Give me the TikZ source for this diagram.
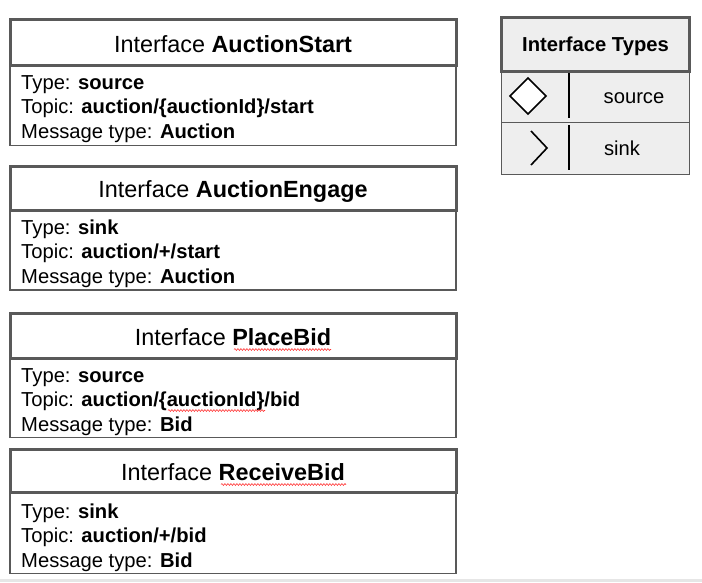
\documentclass[tikz,border=0pt]{standalone}
\usepackage{fontspec}
\setmainfont{Liberation Sans}
\usetikzlibrary{decorations.pathmorphing}
\definecolor{frame}{HTML}{595959}
\definecolor{panel}{HTML}{EEEEEE}
\definecolor{strip}{HTML}{E6E6E6}
\tikzset{
  hdrbox/.style={draw=frame, line width=3pt, fill=white, minimum width=446pt, minimum height=46pt, inner sep=0pt},
  bodybox/.style={draw=frame, line width=1.4pt, fill=white, minimum width=446pt, inner sep=0pt},
  hdrtext/.style={anchor=base, inner sep=0pt, font=\fontsize{23.4pt}{26pt}\selectfont},
  line/.style={anchor=base west, inner sep=0pt, font=\fontsize{20.2pt}{24pt}\selectfont},
  legendhdr/.style={draw=frame, line width=3pt, fill=panel, minimum width=188pt, minimum height=54pt, inner sep=0pt},
  legendrow/.style={draw=frame, line width=1pt, fill=panel, minimum width=188pt, minimum height=52pt, inner sep=0pt},
  legendtext/.style={anchor=base, inner sep=0pt, font=\fontsize{20.2pt}{24pt}\selectfont},
  glyph/.style={draw=black, line width=1.6pt},
  spell/.style={draw=red!80!white, line width=0.6pt, decorate, decoration={snake, amplitude=0.9pt, segment length=3pt}}
}
\begin{document}
\begin{tikzpicture}[x=1pt, y=-1pt]
\useasboundingbox (0,0) rectangle (702,582);
\fill[strip] (0,579) rectangle (702,582);

% interface cards: body first, header on top
\node[bodybox, minimum height=80pt] (b1) at (233,105.5) {};
\node[hdrbox] (h1) at (233,42) {};
\node[hdrtext] (t1) at (233,52) {Interface \textbf{AuctionStart}};
\node[line] (b1a) at (21,89) {Type: \textbf{source}};
\node[line] (b1b) at (21,113) {Topic: \textbf{auction/\{auctionId\}/start}};
\node[line] (b1c) at (21,138) {Message type: \textbf{Auction}};

\node[bodybox, minimum height=80pt] (b2) at (233,250) {};
\node[hdrbox, minimum height=44pt] (h2) at (233,188) {};
\node[hdrtext] (t2) at (233,197) {Interface \textbf{AuctionEngage}};
\node[line] (b2a) at (21,234) {Type: \textbf{sink}};
\node[line] (b2b) at (21,258) {Topic: \textbf{auction/+/start}};
\node[line] (b2c) at (21,283) {Message type: \textbf{Auction}};

\node[bodybox, minimum height=80pt] (b3) at (233,397.5) {};
\node[hdrbox, minimum height=45pt] (h3) at (233,335.5) {};
\node[hdrtext] (t3) at (233,345) {Interface \textbf{PlaceBid}};
\node[line] (b3a) at (21,382) {Type: \textbf{source}};
\node[line] (b3b) at (21,406) {Topic: \textbf{auction/\{auctionId\}/bid}};
\node[line] (b3c) at (21,431) {Message type: \textbf{Bid}};

\node[bodybox, minimum height=81pt] (b4) at (233,533) {};
\node[hdrbox, minimum height=43pt] (h4) at (233,470.5) {};
\node[hdrtext] (t4) at (233,480) {Interface \textbf{ReceiveBid}};
\node[line] (b4a) at (21,518) {Type: \textbf{sink}};
\node[line] (b4b) at (21,542) {Topic: \textbf{auction/+/bid}};
\node[line] (b4c) at (21,567) {Message type: \textbf{Bid}};

% spell-check underlines
\draw[spell] (234,349.5) -- (331,349.5);
\draw[spell] (168,410.5) -- (265,410.5);
\draw[spell] (221,484.5) -- (346,484.5);

% legend of interface types
\node[legendrow] (r1) at (595.5,96.5) {};
\node[legendrow] (r2) at (595.5,148) {};
\node[legendhdr] (lh) at (595.5,44) {};
\node[legendtext] (lt) at (595.5,51) {\textbf{Interface Types}};
\node[legendtext] (ls) at (634,103) {source};
\node[legendtext] (lk) at (622,155) {sink};
\draw[glyph, fill=white] (528,78) -- (546,96) -- (528,114) -- (510,96) -- cycle;
\draw[glyph] (531,131) -- (547,148) -- (531,165);
\draw[black, line width=2pt] (569,73) -- (569,118);
\draw[black, line width=2pt] (569,125) -- (569,170);
\end{tikzpicture}
\end{document}
